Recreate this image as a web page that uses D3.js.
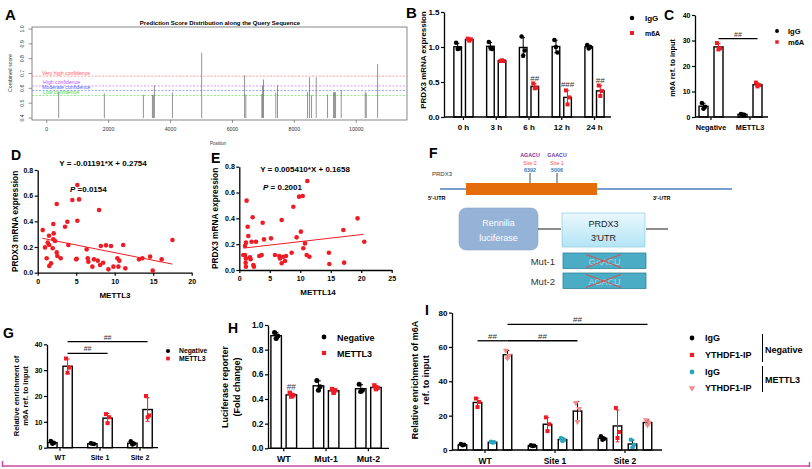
<!DOCTYPE html>
<html><head><meta charset="utf-8">
<script src="https://cdn.jsdelivr.net/npm/d3@7"></script>
<style>
body{margin:0;background:#fff}
svg{display:block}
text{font-family:Arial,"Liberation Sans",Helvetica,sans-serif}
</style>
</head><body>
<svg id="c" width="812" height="469"></svg>
<script>
// ================= DATA =================
// Panel A : SRAMP prediction
const aPositions = [387,1863,3124,3415,3447,3480,4062,5006,6434,6392,6951,6973,7004,7403,7457,8427,8491,8556,8707,9073,9267,9300,9332,9515,10291,10324,10690];
const aScores    = [0.575,0.565,0.557,0.556,0.556,0.622,0.572,0.84,0.556,0.688,0.562,0.62,0.66,0.572,0.622,0.576,0.675,0.553,0.675,0.557,0.573,0.575,0.573,0.588,0.576,0.566,0.763];
const aThresholdNames = ["Very high confidence","High confidence","Moderate confidence","Low confidence"];
const aThresholds = [0.682,0.616,0.585,0.552];
const aXTicks = [0,2000,4000,6000,8000,10000];
const aYTicks = [0.4,0.5,0.6,0.7,0.8,0.9,1.0];

// Panel B
const bTimes = ["0 h","3 h","6 h","12 h","24 h"];
const bIgG = [[1.06,0.98,0.97],[1.07,0.97,0.99],[1.15,0.95,0.88],[1.10,0.92,1.00],[1.03,1.00,0.98]];
const bM6A = [[1.12,1.11,1.09],[0.80,0.80,0.81],[0.48,0.42,0.41],[0.38,0.28,0.18],[0.45,0.37,0.30]];
const bSig = ["","","##","###","##"];
const bYTicks = [0,0.5,1.0,1.5];

// Panel C
const cGroups = ["Negative","METTL3"];
const cIgG = [[5.5,4.0,3.2],[1.2,0.9,1.0]];
const cM6A = [[29,27,26.5],[13.5,12.5,12.0]];
const cYTicks = [0,10,20,30,40];

// Panel D : METTL3 vs PRDX3
const dX = [0.65,0.95,1.17,1.3,1.5,1.47,1.5,1.73,2.03,2.08,2.03,1.95,2.25,2.47,2.47,2.55,2.99,3.55,3.85,3.98,4.5,5.0,5.15,5.15,5.06,5.37,6.36,6.5,6.58,7.1,7.3,7.8,7.97,8.1,8.2,8.5,8.87,9.18,9.52,9.83,10.35,10.48,10.6,11.1,11.38,13.16,13.6,14.6,14.94,16.1,17.5];
const dY = [0.332,0.197,0.112,0.234,0.216,0.288,0.052,0.073,0.379,0.306,0.26,0.19,0.247,0.535,0.158,0.13,0.112,0.358,0.397,0.216,0.566,0.104,0.683,0.405,0.109,0.571,0.182,0.112,0.086,0.047,0.104,0.094,0.488,0.06,0.208,0.078,0.213,0.026,0.208,0.047,0.112,0.047,0.094,0.216,0.034,0.104,0.112,0.125,0.016,0.104,0.255];
const dFit = {slope:-0.01191, intercept:0.2754, from:0.6, to:17.5};

// Panel E : METTL14 vs PRDX3
const eX = [1.2,1.37,1.48,1.09,0.93,0.93,0.66,1.09,1.04,1.09,1.75,1.86,2.02,2.19,2.3,2.4,2.74,3.28,3.67,3.83,4.05,5.2,5.85,6.56,6.67,6.95,6.95,7.2,7.5,7.66,8.59,8.86,9.4,9.8,10.1,10.4,10.5,10.78,11.05,11.16,11.5,14.7,14.77,17.07,17.2,19.4,20.5];
const eY = [0.537,0.335,0.263,0.212,0.186,0.116,0.116,0.09,0.057,0.026,0.098,0.083,0.219,0.408,0.039,0.026,0.219,0.108,0.116,0.366,0.237,0.245,0.116,0.108,0.09,0.387,0.052,0.103,0.07,0.108,0.134,0.49,0.253,0.568,0.297,0.573,0.168,0.206,0.116,0.689,0.103,0.134,0.046,0.31,0.057,0.4,0.219];
const eFit = {slope:0.005410, intercept:0.1658, from:0.7, to:20.4};

// Panel G
const gSites = ["WT","Site 1","Site 2"];
const gNeg = [[2.6,1.8,1.5],[1.7,1.4,1.5],[2.5,1.5,1.2]];
const gMettl3 = [[34.5,31,29],[13,11.8,9.5],[20,12.5,11.8]];
const gYTicks = [0,10,20,30,40];

// Panel H
const hGroups = ["WT","Mut-1","Mut-2"];
const hNeg = [[0.94,0.91,0.89],[0.55,0.50,0.47],[0.52,0.47,0.46]];
const hMettl3 = [[0.45,0.43,0.42],[0.48,0.47,0.45],[0.51,0.49,0.48]];
const hYTicks = [0,0.2,0.4,0.6,0.8,1.0];

// Panel I
const iSites = ["WT","Site 1","Site 2"];
const iIgGNeg = [[3.5,3.0,2.7],[2.8,2.5,2.3],[8.0,6.5,6.0]];
const iYthNeg = [[30,28,25],[19,15,11],[24.5,10.5,7]];
const iIgGMettl3 = [[4.8,4.5,4.3],[7,6,5.2],[6,3,1.5]];
const iYthMettl3 = [[58,55,53.5],[27.5,24,16.5],[17.5,16,14.5]];
const iYTicks = [0,20,40,60,80];

// ================= DRAWING =================
const svg = d3.select("#c");
const RED = "#ee1c24", BLACK = "#000", CYAN = "#2aa5c0", PINK = "#f48a8a";

function letter(x, y, t, size){
  svg.append("text").attr("x",x).attr("y",y).text(t)
    .attr("font-size",size||15).attr("font-weight","bold");
}
function sym(shape, size){
  const map = {circle:d3.symbolCircle, square:d3.symbolSquare, tri:d3.symbolTriangle};
  return d3.symbol().type(map[shape]).size(size)();
}

// ---------- Panel A ----------
(function(){
  const g = svg.append("g");
  const x = d3.scaleLinear().domain([-475,11640]).range([32,407]);
  const y = d3.scaleLinear().domain([0.4,1.0]).range([118,29]);
  const fs = 5.2;
  g.append("rect").attr("x",32).attr("y",27).attr("width",375).attr("height",93)
    .attr("fill","none").attr("stroke","#555").attr("stroke-width",0.7);
  g.append("text").attr("x",220).attr("y",25).attr("text-anchor","middle")
    .attr("font-size",6).attr("font-weight","bold").text("Prediction Score Distribution along the Query Sequence");
  const tcol = ["#ff6060","#bb55ee","#5566ff","#44dd44"];
  aThresholds.forEach((t,i)=>{
    g.append("line").attr("x1",32).attr("x2",407).attr("y1",y(t)).attr("y2",y(t))
      .attr("stroke",tcol[i]).attr("stroke-width",0.6).attr("stroke-dasharray","2,1.5");
    g.append("text").attr("x",42+(i%2?1:0)).attr("y",y(t)-1.5).attr("font-size",fs)
      .attr("fill",tcol[i]).text(aThresholdNames[i]);
  });
  g.selectAll("line.s").data(aPositions).enter().append("line")
    .attr("x1",d=>x(d)).attr("x2",d=>x(d)).attr("y1",y(0.4))
    .attr("y2",(d,i)=>y(aScores[i])).attr("stroke","#666").attr("stroke-width",0.7);
  aYTicks.forEach(v=>{
    g.append("line").attr("x1",28.5).attr("x2",32).attr("y1",y(v)).attr("y2",y(v)).attr("stroke","#555").attr("stroke-width",0.6);
    g.append("text").attr("transform",`translate(24,${y(v)}) rotate(-90)`).attr("text-anchor","middle")
      .attr("font-size",fs).attr("fill","#333").text(v.toFixed(1));
  });
  g.append("text").attr("transform","translate(12,73) rotate(-90)").attr("text-anchor","middle")
    .attr("font-size",fs).attr("fill","#333").text("Combined score");
  aXTicks.forEach(v=>{
    g.append("line").attr("x1",x(v)).attr("x2",x(v)).attr("y1",120).attr("y2",123).attr("stroke","#555").attr("stroke-width",0.6);
    g.append("text").attr("x",x(v)).attr("y",131).attr("text-anchor","middle")
      .attr("font-size",fs).attr("fill","#333").text(v);
  });
  g.append("text").attr("x",218).attr("y",145).attr("text-anchor","middle")
    .attr("font-size",4.5).attr("fill","#333").text("Position");
  letter(5,20,"A",15);
})();

// ---------- generic bar panel ----------
function barPanel(o){
  const g = svg.append("g");
  const x = d3.scaleBand().domain(o.groups).range(o.band);
  const y = d3.scaleLinear().domain(o.yDomain).range(o.yRange);
  const fs = o.fs;
  o.series.forEach((s,si)=>{
    s.data.forEach((vals,gi)=>{
      const cx = x(o.groups[gi]) + x.bandwidth()/2 + o.offsets[si];
      const m = d3.mean(vals), sd = d3.deviation(vals);
      g.append("rect").attr("x",cx-o.barW/2).attr("y",y(m)).attr("width",o.barW)
        .attr("height",y(0)-y(m)).attr("fill","#fff").attr("stroke","#000").attr("stroke-width",o.sw||1.4);
      const ec = s.errColor || "#000";
      g.append("line").attr("x1",cx).attr("x2",cx).attr("y1",y(m-sd)).attr("y2",y(m+sd)).attr("stroke",ec).attr("stroke-width",1);
      [m-sd,m+sd].forEach(v=>g.append("line").attr("x1",cx-o.barW*0.22).attr("x2",cx+o.barW*0.22)
        .attr("y1",y(v)).attr("y2",y(v)).attr("stroke",ec).attr("stroke-width",1));
      const jit = [-1.6,1.6,0];
      vals.forEach((v,k)=>{
        g.append("path").attr("d",sym(s.shape,o.symSize))
          .attr("transform",`translate(${cx+jit[k]},${y(v)})${s.shape==="tri"?" rotate(180)":""}`)
          .attr("fill",s.color);
      });
      if(s.sig && s.sig[gi]){
        g.append("text").attr("x",cx).attr("y",y(m+sd)-3).attr("text-anchor","middle")
          .attr("font-size",fs).attr("fill","#333").text(s.sig[gi]);
      }
    });
  });
  const ya = d3.axisLeft(y).tickValues(o.yTicks).tickSize(3).tickSizeOuter(0).tickFormat(o.fmt);
  const yg = g.append("g").attr("transform",`translate(${o.axisX},0)`).call(ya);
  yg.select(".domain").attr("stroke-width",1.3);
  yg.selectAll(".tick line").attr("stroke-width",1.2);
  yg.selectAll("text").attr("font-size",fs).attr("font-weight","bold").attr("font-family","Arial,'Liberation Sans',sans-serif").attr("x",-4.5);
  g.append("line").attr("x1",o.axisX).attr("x2",o.xEnd).attr("y1",y(0)).attr("y2",y(0)).attr("stroke","#000").attr("stroke-width",1.3);
  const xa = d3.axisBottom(x).tickSize(3).tickSizeOuter(0);
  const xg = g.append("g").attr("transform",`translate(0,${y(0)})`).call(xa);
  xg.select(".domain").remove();
  xg.selectAll(".tick line").attr("stroke-width",1.2);
  xg.selectAll("text").attr("font-size",o.xfs||fs).attr("font-weight","bold").attr("font-family","Arial,'Liberation Sans',sans-serif").attr("dy",o.xdy||"0.9em");
  o.yTitle.forEach((t,i)=>{
    g.append("text").attr("transform",`translate(${o.yTitleX[i]},${o.yTitleY}) rotate(-90)`)
      .attr("text-anchor","middle").attr("font-size",o.tfs).attr("font-weight","bold").text(t);
  });
  (o.sigLines||[]).forEach(s=>{
    const xa1 = x(o.groups[s[0]])+x.bandwidth()/2+o.offsets[s[1]];
    const xa2 = x(o.groups[s[2]])+x.bandwidth()/2+o.offsets[s[3]];
    g.append("line").attr("x1",xa1).attr("x2",xa2).attr("y1",y(s[4])).attr("y2",y(s[4])).attr("stroke","#000").attr("stroke-width",1.3);
    g.append("text").attr("x",(xa1+xa2)/2).attr("y",y(s[4])-2).attr("text-anchor","middle")
      .attr("font-size",fs).attr("fill","#333").text(s[5]);
  });
  return {x,y,g};
}

// ---------- Panel B ----------
barPanel({groups:bTimes, band:[447.1,610.9], yDomain:[0,1.5], yRange:[117,12], axisX:444, xEnd:611,
  offsets:[-5.8,5.8], barW:7.6, symSize:16, fs:8, tfs:8, yTicks:bYTicks, fmt:d3.format(".1f"),
  series:[{data:bIgG,color:BLACK,shape:"circle"},{data:bM6A,color:RED,shape:"square",sig:bSig,errColor:RED}],
  yTitle:["PRDX3 mRNA expression"], yTitleX:[426], yTitleY:60});
svg.append("path").attr("d",sym("circle",16)).attr("transform","translate(632,18)");
svg.append("text").attr("x",645).attr("y",21).attr("font-size",8).attr("font-weight","bold").text("IgG");
svg.append("path").attr("d",sym("square",16)).attr("transform","translate(632,33)").attr("fill",RED);
svg.append("text").attr("x",645).attr("y",36).attr("font-size",7).attr("font-weight","bold").text("m6A");
letter(406,18,"B",15);

// ---------- Panel C ----------
barPanel({groups:cGroups, band:[691.5,769.5], yDomain:[0,40], yRange:[117,15], axisX:695, xEnd:768,
  offsets:[-7.5,7.5], barW:9, symSize:16, fs:7, xfs:7.3, tfs:7.3, yTicks:cYTicks, fmt:d3.format("d"),
  series:[{data:cIgG,color:BLACK,shape:"circle"},{data:cM6A,color:RED,shape:"square",errColor:RED}],
  yTitle:["m6A ref. to input"], yTitleX:[675], yTitleY:68,
  sigLines:[[0,1,1,1,30.7,"##"]]});
svg.append("path").attr("d",sym("circle",12)).attr("transform","translate(777,31)");
svg.append("text").attr("x",788).attr("y",34).attr("font-size",7.5).attr("font-weight","bold").text("IgG");
svg.append("path").attr("d",sym("square",12)).attr("transform","translate(777,42)").attr("fill",RED);
svg.append("text").attr("x",788).attr("y",45).attr("font-size",7.5).attr("font-weight","bold").text("m6A");
letter(664,20,"C",14);

// ---------- scatter panels ----------
function scatterPanel(o){
  const g = svg.append("g");
  const x = d3.scaleLinear().domain(o.xDomain).range(o.xRange);
  const y = d3.scaleLinear().domain([0,0.8]).range(o.yRange);
  const fs = 7;
  const ya = d3.axisLeft(y).tickValues([0,0.2,0.4,0.6,0.8]).tickSize(3).tickSizeOuter(0).tickFormat(d3.format(".1f"));
  const yg = g.append("g").attr("transform",`translate(${o.xRange[0]},0)`).call(ya);
  const xa = d3.axisBottom(x).tickValues(o.xTicks).tickSize(3).tickSizeOuter(0);
  const xg = g.append("g").attr("transform",`translate(0,${o.yRange[0]})`).call(xa);
  [yg,xg].forEach(a=>{
    a.select(".domain").attr("stroke-width",1.3);
    a.selectAll(".tick line").attr("stroke-width",1.2);
    a.selectAll("text").attr("font-size",fs).attr("font-weight","bold").attr("font-family","Arial,'Liberation Sans',sans-serif");
  });
  yg.selectAll("text").attr("x",-4.5);
  g.selectAll("circle").data(o.xs).enter().append("circle")
    .attr("cx",d=>x(d)).attr("cy",(d,i)=>y(o.ys[i])).attr("r",2.3).attr("fill",RED);
  g.append("line").attr("x1",x(o.fit.from)).attr("x2",x(o.fit.to))
    .attr("y1",y(o.fit.intercept+o.fit.slope*o.fit.from)).attr("y2",y(o.fit.intercept+o.fit.slope*o.fit.to))
    .attr("stroke",RED).attr("stroke-width",1);
  g.append("text").attr("x",o.titleX).attr("y",o.titleY).attr("text-anchor","middle")
    .attr("font-size",8).attr("font-weight","bold").text(o.title);
  const p = g.append("text").attr("x",o.pX).attr("y",o.pY).attr("font-size",8).attr("font-weight","bold");
  p.append("tspan").attr("font-style","italic").text("P");
  p.append("tspan").text(o.pText);
  g.append("text").attr("x",o.xLabX).attr("y",o.xLabY).attr("text-anchor","middle")
    .attr("font-size",8).attr("font-weight","bold").text(o.xLab);
  g.append("text").attr("transform",`translate(${o.yTitleX},${(o.yRange[0]+o.yRange[1])/2}) rotate(-90)`)
    .attr("text-anchor","middle").attr("font-size",8.3).attr("font-weight","bold").text("PRDX3 mRNA expression");
}
scatterPanel({xs:dX, ys:dY, fit:dFit, xDomain:[0,20], xRange:[37.7,191.7], yRange:[272.7,170], xTicks:[0,5,10,15,20],
  title:"Y = -0.01191*X + 0.2754", titleX:103, titleY:166, pX:70, pY:192, pText:" =0.0154",
  xLab:"METTL3", xLabX:115, xLabY:298, yTitleX:18});
letter(11,160,"D",14);
scatterPanel({xs:eX, ys:eY, fit:eFit, xDomain:[0,25], xRange:[239.3,391.7], yRange:[270,166.7], xTicks:[0,5,10,15,20,25],
  title:"Y = 0.005410*X + 0.1658", titleX:305, titleY:172, pX:263, pY:190, pText:" = 0.2001",
  xLab:"METTL14", xLabX:318, xLabY:295, yTitleX:218});
letter(211,163,"E",14);

// ---------- Panel F (schematic) ----------
(function(){
  const g = svg.append("g");
  const defs = svg.append("defs");
  const gr = defs.append("linearGradient").attr("id","utrGrad").attr("x1",0).attr("y1",0).attr("x2",0).attr("y2",1);
  gr.append("stop").attr("offset","0%").attr("stop-color","#eaf8fd");
  gr.append("stop").attr("offset","100%").attr("stop-color","#b3e4f5");
  g.append("text").attr("x",432).attr("y",176).attr("font-size",6).attr("fill","#333").text("PRDX3");
  g.append("line").attr("x1",440).attr("x2",732).attr("y1",189).attr("y2",189).attr("stroke","#4a7ebb").attr("stroke-width",1.6);
  g.append("rect").attr("x",466).attr("y",183).attr("width",131).attr("height",12).attr("fill","#e46c0a");
  [[530,"AGACU","Site 2","6392"],[557,"GAACU","Site 1","5006"]].forEach(s=>{
    g.append("line").attr("x1",s[0]).attr("x2",s[0]).attr("y1",173).attr("y2",183).attr("stroke","#000").attr("stroke-width",0.7);
    g.append("text").attr("x",s[0]).attr("y",157).attr("text-anchor","middle").attr("font-size",5.3).attr("font-weight","bold").attr("fill","#7030a0").text(s[1]);
    g.append("text").attr("x",s[0]).attr("y",164.5).attr("text-anchor","middle").attr("font-size",5.3).attr("fill","#ff4d4d").text(s[2]);
    g.append("text").attr("x",s[0]).attr("y",171.5).attr("text-anchor","middle").attr("font-size",5.3).attr("font-weight","bold").attr("fill","#2e75b6").text(s[3]);
  });
  g.append("text").attr("x",428).attr("y",199.5).attr("font-size",5.5).attr("font-weight","bold").text("5\u2032-UTR");
  g.append("text").attr("x",653).attr("y",199.5).attr("font-size",5.5).attr("font-weight","bold").text("3\u2032-UTR");
  g.append("rect").attr("x",459).attr("y",208).attr("width",79).attr("height",42).attr("rx",7)
    .attr("fill","#95b3d7").attr("stroke","#8aa6cb").attr("stroke-width",0.6);
  g.append("text").attr("x",498.5).attr("y",226).attr("text-anchor","middle").attr("font-size",9).attr("fill","#fff").text("Rennilia");
  g.append("text").attr("x",498.5).attr("y",241).attr("text-anchor","middle").attr("font-size",9).attr("fill","#fff").text("luciferase");
  g.append("line").attr("x1",538).attr("x2",561).attr("y1",229).attr("y2",229).attr("stroke","#000").attr("stroke-width",0.9);
  g.append("rect").attr("x",562).attr("y",213).attr("width",83).attr("height",34)
    .attr("fill","url(#utrGrad)").attr("stroke","#8ccbe0").attr("stroke-width",0.7);
  g.append("text").attr("x",603.5).attr("y",226.5).attr("text-anchor","middle").attr("font-size",9).attr("fill","#222").text("PRDX3");
  g.append("text").attr("x",603.5).attr("y",241).attr("text-anchor","middle").attr("font-size",9).attr("fill","#222").text("3\u2032UTR");
  g.append("line").attr("x1",646).attr("x2",668).attr("y1",229).attr("y2",229).attr("stroke","#000").attr("stroke-width",0.9);
  [[253,"GAACU","Mut-1"],[273,"AGACU","Mut-2"]].forEach(m=>{
    g.append("rect").attr("x",563).attr("y",m[0]).attr("width",83).attr("height",15.5)
      .attr("fill","#4bacc6").attr("stroke","#31849b").attr("stroke-width",0.8);
    g.append("text").attr("x",604.5).attr("y",m[0]+11.5).attr("text-anchor","middle").attr("font-size",9).attr("fill","#a6dbe9").text(m[1]);
    g.append("line").attr("x1",586).attr("x2",621).attr("y1",m[0]+1.5).attr("y2",m[0]+14.5).attr("stroke","#e0463f").attr("stroke-width",0.9);
    g.append("line").attr("x1",586).attr("x2",621).attr("y1",m[0]+14.5).attr("y2",m[0]+1.5).attr("stroke","#e0463f").attr("stroke-width",0.9);
    g.append("text").attr("x",555).attr("y",m[0]+11.5).attr("text-anchor","end").attr("font-size",9.5).attr("fill","#333").text(m[2]);
  });
  letter(429,158,"F",14);
})();

// ---------- Panel G ----------
barPanel({groups:gSites, band:[40,160], yDomain:[0,40], yRange:[447.7,344.3], axisX:47, xEnd:158,
  offsets:[-7.6,7.6], barW:9.3, symSize:16, fs:7, tfs:7.5, yTicks:gYTicks, fmt:d3.format("d"),
  series:[{data:gNeg,color:BLACK,shape:"circle"},{data:gMettl3,color:RED,shape:"square",errColor:RED}],
  yTitle:["Relative enrichment of","m6A ref. to input"], yTitleX:[19,28], yTitleY:396,
  sigLines:[[0,1,1,1,36.5,"##"],[0,1,2,1,41,"##"]]});
svg.append("path").attr("d",sym("circle",14)).attr("transform","translate(168,351)");
svg.append("text").attr("x",179).attr("y",353.3).attr("font-size",6.8).attr("font-weight","bold").text("Negative");
svg.append("path").attr("d",sym("square",14)).attr("transform","translate(168,358.5)").attr("fill",RED);
svg.append("text").attr("x",179).attr("y",361).attr("font-size",6.8).attr("font-weight","bold").text("METTL3");
letter(3,338,"G",14);

// ---------- Panel H ----------
barPanel({groups:hGroups, band:[262.6,389.5], yDomain:[0,1], yRange:[448.3,325], axisX:268, xEnd:389,
  offsets:[-7.6,7.6], barW:10.5, symSize:20, fs:8.3, xfs:8.8, tfs:9, yTicks:hYTicks, fmt:d3.format(".1f"),
  series:[{data:hNeg,color:BLACK,shape:"circle"},{data:hMettl3,color:RED,shape:"square",sig:["##","",""],errColor:RED}],
  yTitle:["Luciferase reporter","(Fold change)"], yTitleX:[228,240], yTitleY:387});
svg.append("path").attr("d",sym("circle",18)).attr("transform","translate(324,337)");
svg.append("text").attr("x",337).attr("y",340.5).attr("font-size",9).attr("font-weight","bold").text("Negative");
svg.append("path").attr("d",sym("square",18)).attr("transform","translate(324,353)").attr("fill",RED);
svg.append("text").attr("x",337).attr("y",356.5).attr("font-size",9).attr("font-weight","bold").text("METTL3");
letter(228,333,"H",14);

// ---------- Panel I ----------
barPanel({groups:iSites, band:[450,660], yDomain:[0,80], yRange:[450,312.6], axisX:452, xEnd:662,
  offsets:[-22.5,-7.5,7.5,22.5], barW:8.5, symSize:16, fs:8, xfs:8.5, tfs:9, yTicks:iYTicks, fmt:d3.format("d"),
  series:[{data:iIgGNeg,color:BLACK,shape:"circle"},{data:iYthNeg,color:RED,shape:"square",errColor:RED},
          {data:iIgGMettl3,color:CYAN,shape:"circle"},{data:iYthMettl3,color:PINK,shape:"tri"}],
  yTitle:["Relative enrichment of m6A","ref. to input"], yTitleX:[418,429], yTitleY:380,
  sigLines:[[0,1,0,3,63.6,"##"],[0,3,1,3,63.6,"##"],[0,3,2,3,73.1,"##"]]});
(function(){
  const items = [[BLACK,"circle","IgG",338],[RED,"square","YTHDF1-IP",355],[CYAN,"circle","IgG",372],[PINK,"tri","YTHDF1-IP",388]];
  items.forEach(it=>{
    svg.append("path").attr("d",sym(it[1],18)).attr("transform",`translate(692,${it[3]})${it[1]==="tri"?" rotate(180)":""}`).attr("fill",it[0]);
    svg.append("text").attr("x",705).attr("y",it[3]+3.3).attr("font-size",9).attr("font-weight","bold").text(it[2]);
  });
  svg.append("line").attr("x1",762.5).attr("x2",762.5).attr("y1",334).attr("y2",362).attr("stroke","#000").attr("stroke-width",1);
  svg.append("line").attr("x1",762.5).attr("x2",762.5).attr("y1",366).attr("y2",392).attr("stroke","#000").attr("stroke-width",1);
  svg.append("text").attr("x",765).attr("y",353).attr("font-size",9).attr("font-weight","bold").text("Negative");
  svg.append("text").attr("x",765).attr("y",383).attr("font-size",9).attr("font-weight","bold").text("METTL3");
})();
letter(425,315,"I",14);

// ---------- bottom border ----------
svg.append("line").attr("x1",2).attr("x2",810).attr("y1",466).attr("y2",466).attr("stroke","#cc48a8").attr("stroke-width",1.5);
svg.append("line").attr("x1",2.5).attr("x2",2.5).attr("y1",461).attr("y2",467).attr("stroke","#cc48a8").attr("stroke-width",1.5);
svg.append("line").attr("x1",809.5).attr("x2",809.5).attr("y1",462).attr("y2",467).attr("stroke","#cc48a8").attr("stroke-width",1.5);
</script>
</body></html>
